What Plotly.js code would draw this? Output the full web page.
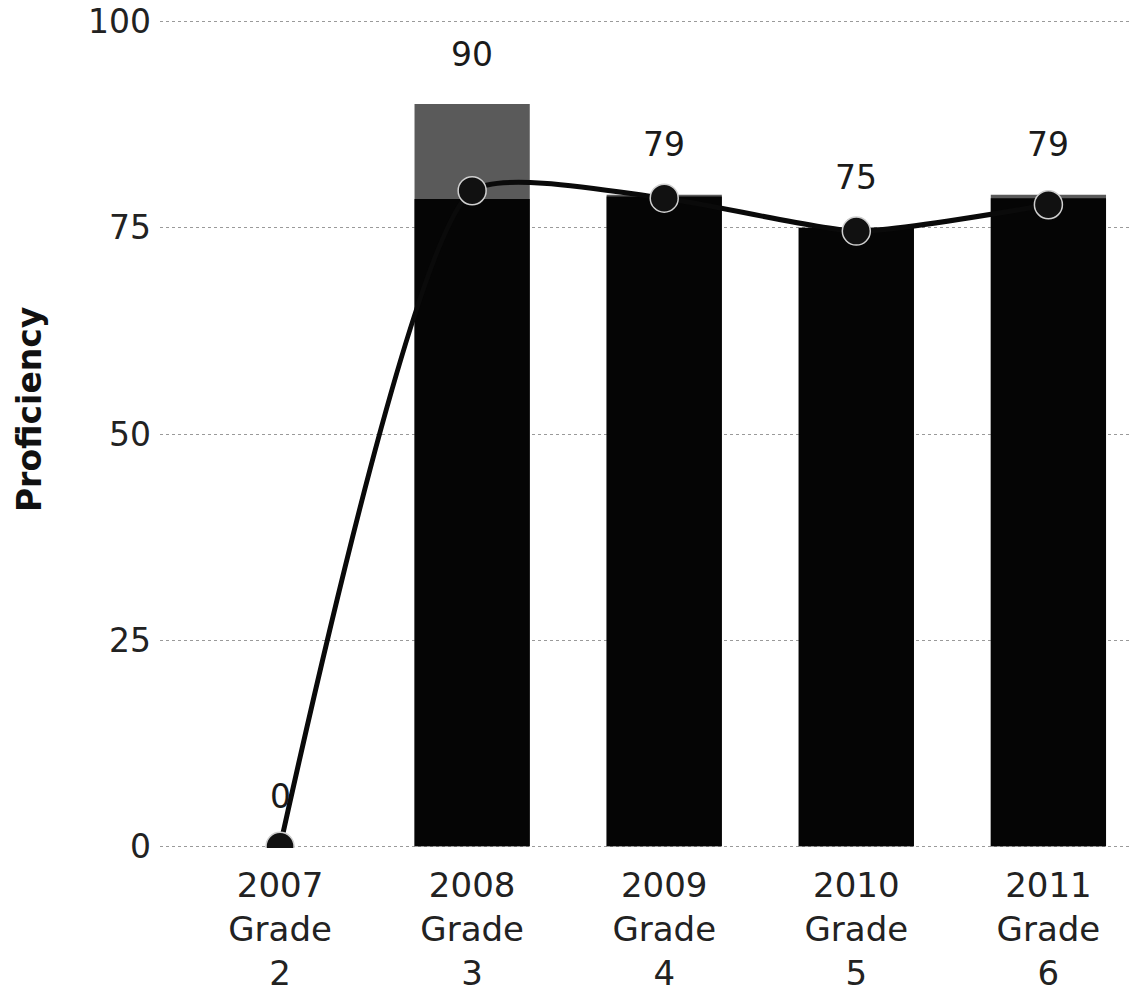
<!DOCTYPE html>
<html><head><meta charset="utf-8">
<script src="https://cdn.plot.ly/plotly-3.0.1.min.js"></script>
<style>html,body{margin:0;padding:0;background:#fff}</style>
</head><body><div id="chart" style="width:1131px;height:994px"></div>
<script>
var categories = ["2007<br>Grade<br>2","2008<br>Grade<br>3","2009<br>Grade<br>4","2010<br>Grade<br>5","2011<br>Grade<br>6"];
var schoolValues = [0, 90, 79, 75, 79];
var compareValues = [0, 78.5, 78.8, 75, 78.6];
var trendValues = [0, 79.5, 78.6, 74.6, 77.8];
var labelValues = [0, 90, 79, 75, 79];
var yTicks = [0, 25, 50, 75, 100];

var font = "DejaVu Sans, sans-serif";
var traces = [
  {type:'bar', x:categories, y:schoolValues, width:0.6, marker:{color:'#5a5a5a'}, hoverinfo:'skip'},
  {type:'bar', x:categories, y:compareValues, width:0.6, marker:{color:'#050505'}, hoverinfo:'skip'},
  {type:'scatter', mode:'lines+markers', x:categories, y:trendValues,
   line:{color:'#0a0a0a', width:5, shape:'spline', smoothing:0.55},
   marker:{size:28, color:'#111', line:{color:'#cfcfcf', width:1.5}}, hoverinfo:'skip'}
];
var annotations = labelValues.map(function(v,i){
  return {x:categories[i], y:v, text:String(v), showarrow:false, yanchor:'middle', yshift:50,
          font:{family:font, size:33, color:'#1a1a1a'}};
});
annotations.push({xref:'paper', yref:'paper', x:-0.135, y:0.53, xanchor:'center', yanchor:'middle',
  textangle:-90, text:'<b>Proficiency</b>', showarrow:false, font:{family:font, size:33, color:'#111'}});
var layout = {
  width:1131, height:994, barmode:'overlay', showlegend:false,
  margin:{l:160, r:0, t:20, b:146},
  paper_bgcolor:'#fff', plot_bgcolor:'#fff',
  xaxis:{type:'category', range:[-0.625, 4.43], showgrid:false, zeroline:false, showline:false, ticks:'',
         ticklabelstandoff:14, tickfont:{family:font, size:34, color:'#222'}},
  yaxis:{range:[-0.2,100.2], tickvals:yTicks, showgrid:true, gridcolor:'#9a9a9a', griddash:'dot', gridwidth:1,
         zeroline:false, showline:false, ticks:'', ticklabelstandoff:8,
         tickfont:{family:font, size:33, color:'#222'}},
  annotations:annotations
};
Plotly.newPlot('chart', traces, layout, {staticPlot:true});
</script></body></html>
